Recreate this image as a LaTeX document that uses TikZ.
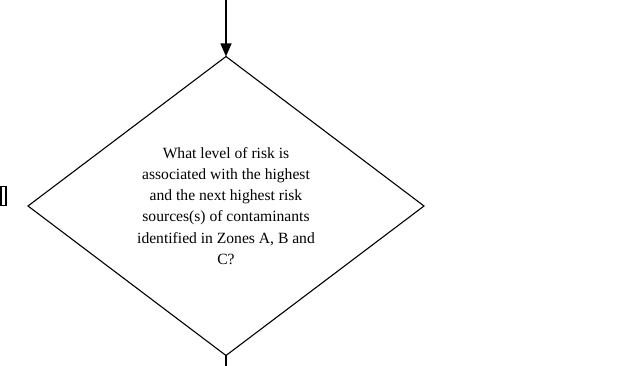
\documentclass[tikz,border=0pt]{standalone}
\usepackage{fontspec}
\setmainfont{Liberation Serif}
\usetikzlibrary{shapes.geometric,arrows.meta}
\newlength{\flowlinewidth}
\setlength{\flowlinewidth}{1.1pt}

\begin{document}
\begin{tikzpicture}[x=1pt,y=-1pt,
        decision/.style={
            diamond,draw,
            line width=\flowlinewidth,
            minimum width=396pt,minimum height=299pt,
            inner sep=0pt,outer sep=0pt,
            align=center,
            font=\fontsize{15.6}{21.2}\selectfont,
            },
        stub/.style={
            rectangle,draw,
            line width=1.7pt,
            minimum width=5pt,minimum height=19pt,
            inner sep=0pt,outer sep=0pt,
            },
        flow/.style={line width=\flowlinewidth},
        ]
    \useasboundingbox (0,0) rectangle (625,366);
    \node[decision] (risk) at (226,206)
        {What level of risk is\\
         associated with the highest\\
         and the next highest risk\\
         sources(s) of contaminants\\
         identified in Zones A, B and\\
         C?};
    \node[stub] (prev) at (3.3,196) {};
    \coordinate (in) at (226,0);
    \coordinate (out) at (226,366);
    \draw[flow,-{Triangle[length=13pt,width=11pt]}] (in) -- (risk.north);
    \draw[flow] (risk.south) -- (out);
\end{tikzpicture}
\end{document}
